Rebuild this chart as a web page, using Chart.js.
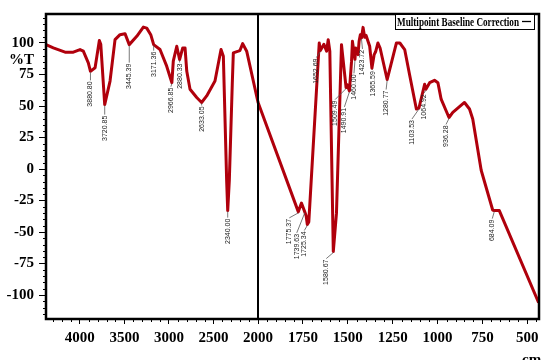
<!DOCTYPE html>
<html>
<head>
<meta charset="utf-8">
<script src="https://cdn.jsdelivr.net/npm/chart.js@4/dist/chart.umd.min.js"></script>
<style>
  html, body { margin: 0; padding: 0; background: #fff; }
  #wrap { width: 545px; height: 360px; position: relative; }
</style>
</head>
<body>
<div id="wrap"><canvas id="ir"></canvas></div>
<script>
// FTIR spectrum: wavenumber (cm-1) vs transmittance (%T)
const wavenumber = [
  4380, 4298, 4166, 4073, 3998, 3961, 3905, 3880.80, 3829, 3781, 3765, 3720.85,
  3661, 3605, 3549, 3493, 3445.39, 3361, 3287, 3249, 3204, 3171.36, 3100, 3025,
  2966.85, 2951, 2912, 2880.33, 2845, 2819, 2800, 2763, 2688, 2633.05, 2576, 2483,
  2426, 2415, 2389, 2352, 2340.00, 2322, 2289, 2277, 2221, 2203, 2172, 2127, 2000,
  1775.37, 1758, 1739.63, 1732, 1725.34, 1717, 1659, 1652.69, 1633, 1618, 1609,
  1600, 1580.67, 1563, 1535, 1509.49, 1504, 1490.91, 1479, 1474, 1460.00, 1456,
  1443, 1437, 1430, 1423.72, 1415, 1406, 1398, 1378, 1365.59, 1353, 1345, 1332,
  1320, 1280.77, 1229, 1210, 1183, 1156, 1118, 1103.53, 1072, 1064.92, 1044, 1017,
  998, 989, 980, 936.28, 915, 850, 822, 804, 757, 693, 684.09, 656, 437
];
const transmittance = [
  98.7, 96.1, 92.7, 92.7, 94.8, 93.5, 84.2, 77.5, 80.3, 101.9, 99, 51.1,
  69.8, 102.7, 106.6, 107.4, 98.7, 105.3, 112.6, 111.8, 106.6, 98.7, 94.8, 81.6,
  68.5, 85.6, 97.4, 86.9, 96.1, 96.1, 77.7, 63.3, 56.7, 52.8, 58, 69.8,
  90.8, 94.8, 89.5, -9, -33, -9, 67, 92.1, 93.5, 94, 99.5, 93.5, 53,
  -34, -27, -34, -37, -44, -42, 100, 94, 99, 93.5, 102.6,
  93.5, -65.5, -35, 98.7, 64.6, 67, 62, 85.6, 101.3, 87, 96.1,
  90.8, 101.3, 106.6, 104, 112.4, 104.5, 106, 97.4, 80, 90.8, 93, 100,
  96, 71, 100, 100, 94.8, 75, 47.6, 48.4, 67.2, 63.3, 68.5, 70.4,
  68.5, 62, 55.4, 40.9, 44.9, 52.8, 47.6, 39.7, -1, -32.5, -33, -33, -106
];
// Picked peaks (wavenumbers present in the series above)
const peaks = [
  3880.80, 3720.85, 3445.39, 3171.36, 2966.85, 2880.33, 2633.05, 2340.00,
  1775.37, 1739.63, 1725.34, 1652.69, 1580.67, 1509.49, 1490.91, 1460.00,
  1423.72, 1365.59, 1280.77, 1103.53, 1064.92, 936.28, 684.09
];
// Where each peak label sits relative to its point (px)
const peakLabelOffset = [
  [0, 10], [0, 11], [0, 19], [0, 7], [-1, 5], [0, 4], [0, 4], [0, 8],
  [-9, 7], [-8, 22], [-3, 7], [-4, 8], [-7, 8], [-11, 13], [-5, 17], [-1, 15],
  [1, 12], [1, 3], [-1, 11], [-7, 12], [-2, 5], [-3, 8], [-2, 9]
];
const xMajorTicks = [4000, 3500, 3000, 2500, 2000, 1750, 1500, 1250, 1000, 750, 500];
const yMajorTicks = [-100, -75, -50, -25, 0, 25, 50, 75, 100];

const X_HIGH = 4380, X_BREAK = 2000, X_LOW = 435;
const SPLIT = 212 / 493;   // share of the axis taken by 4380-2000

// Wavenumber axis with an expanded scale below 2000 cm-1
class BrokenWavenumberScale extends Chart.LinearScale {
  static id = 'brokenWavenumber';
  static defaults = Chart.LinearScale.defaults;
  buildTicks() { return xMajorTicks.map(v => ({ value: v })); }
  _frac(v) {
    return v >= X_BREAK
      ? (X_HIGH - v) / (X_HIGH - X_BREAK) * SPLIT
      : SPLIT + (X_BREAK - v) / (X_BREAK - X_LOW) * (1 - SPLIT);
  }
  getPixelForValue(v) { return this.left + this._frac(v) * (this.right - this.left); }
  getValueForPixel(p) {
    const f = (p - this.left) / (this.right - this.left);
    return f <= SPLIT
      ? X_HIGH - f / SPLIT * (X_HIGH - X_BREAK)
      : X_BREAK - (f - SPLIT) / (1 - SPLIT) * (X_BREAK - X_LOW);
  }
}
Chart.register(BrokenWavenumberScale);

const serif = '"Liberation Serif", "Times New Roman", serif';

const decorations = {
  id: 'decorations',
  afterDraw(chart) {
    const { ctx, chartArea: a, scales: { x, y } } = chart;
    ctx.save();
    // minor ticks
    ctx.strokeStyle = '#000';
    ctx.lineWidth = 1;
    ctx.beginPath();
    for (let w = 4300; w > X_BREAK; w -= 100) {
      if (w % 500 === 0) continue;
      const px = Math.round(x.getPixelForValue(w)) + 0.5;
      ctx.moveTo(px, a.bottom); ctx.lineTo(px, a.bottom + 3);
    }
    for (let w = 1950; w > X_LOW; w -= 50) {
      if (w % 250 === 0) continue;
      const px = Math.round(x.getPixelForValue(w)) + 0.5;
      ctx.moveTo(px, a.bottom); ctx.lineTo(px, a.bottom + 3);
    }
    for (let t = -115; t <= 120; t += 5) {
      if (t % 25 === 0) continue;
      const py = Math.round(y.getPixelForValue(t)) + 0.5;
      ctx.moveTo(a.left - 3, py); ctx.lineTo(a.left, py);
    }
    ctx.stroke();

    // peak labels
    ctx.font = '7px "Liberation Sans", Arial, sans-serif';
    peaks.forEach((w, i) => {
      const idx = wavenumber.indexOf(w);
      const px = x.getPixelForValue(w);
      const py = y.getPixelForValue(transmittance[idx]);
      const [dx, dy] = peakLabelOffset[i];
      const tx = px + dx, ty = py + dy;
      ctx.strokeStyle = '#555';
      ctx.lineWidth = 0.8;
      ctx.beginPath();
      ctx.moveTo(px, py + 1);
      ctx.lineTo(tx, ty - 1);
      ctx.stroke();
      ctx.save();
      ctx.translate(tx, ty);
      ctx.rotate(-Math.PI / 2);
      ctx.fillStyle = '#222';
      ctx.textAlign = 'right';
      ctx.textBaseline = 'middle';
      ctx.fillText(w.toFixed(2), 0, 0);
      ctx.restore();
    });

    // frame and axis break
    ctx.strokeStyle = '#000';
    ctx.lineWidth = 2.5;
    ctx.strokeRect(a.left, a.top, a.right - a.left, a.bottom - a.top);
    const bx = x.getPixelForValue(X_BREAK);
    ctx.lineWidth = 2;
    ctx.beginPath();
    ctx.moveTo(bx, a.top); ctx.lineTo(bx, a.bottom);
    ctx.stroke();

    // legend box
    ctx.fillStyle = '#fff';
    ctx.fillRect(395.5, 14.5, 139, 15);
    ctx.lineWidth = 1;
    ctx.strokeRect(395.5, 14.5, 139, 15);
    ctx.fillStyle = '#000';
    ctx.font = 'bold 13px ' + serif;
    ctx.textAlign = 'left';
    ctx.textBaseline = 'alphabetic';
    ctx.fillText('Multipoint Baseline Correction', 397, 26, 122);
    ctx.lineWidth = 1.3;
    ctx.beginPath();
    ctx.moveTo(522, 21.5); ctx.lineTo(531, 21.5);
    ctx.stroke();

    // axis titles
    ctx.font = 'bold 15px ' + serif;
    ctx.textAlign = 'right';
    ctx.fillText('%T', 34, 64);
    ctx.textAlign = 'left';
    ctx.fillText('cm-1', 522, 364);
    ctx.restore();
  }
};

new Chart(document.getElementById('ir'), {
  type: 'line',
  data: {
    datasets: [{
      label: 'Multipoint Baseline Correction',
      data: wavenumber.map((w, i) => ({ x: w, y: transmittance[i] })),
      borderColor: '#B0000C',
      borderWidth: 3,
      borderJoinStyle: 'round',
      pointRadius: 0,
      tension: 0,
      fill: false
    }]
  },
  options: {
    responsive: true,
    maintainAspectRatio: false,
    animation: false,
    layout: { padding: { top: 13, right: 6, left: 0, bottom: 0 } },
    plugins: { legend: { display: false }, tooltip: { enabled: false } },
    scales: {
      x: {
        type: 'brokenWavenumber',
        min: X_LOW,
        max: X_HIGH,
        afterFit(s) { s.height = 41; },
        border: { display: false },
        grid: { drawOnChartArea: false, drawTicks: true, tickLength: 5, color: '#000' },
        ticks: {
          autoSkip: false, maxRotation: 0, padding: 5, color: '#000',
          font: { family: serif, size: 15, weight: 'bold' },
          callback: v => String(v)
        }
      },
      y: {
        min: -119,
        max: 123,
        afterBuildTicks(s) { s.ticks = yMajorTicks.map(v => ({ value: v })); },
        afterFit(s) { s.width = 46; },
        border: { display: false },
        grid: { drawOnChartArea: false, drawTicks: true, tickLength: 7, color: '#000' },
        ticks: {
          padding: 5, color: '#000',
          font: { family: serif, size: 15, weight: 'bold' },
          callback: v => String(v)
        }
      }
    }
  },
  plugins: [decorations]
});
</script>
</body>
</html>
